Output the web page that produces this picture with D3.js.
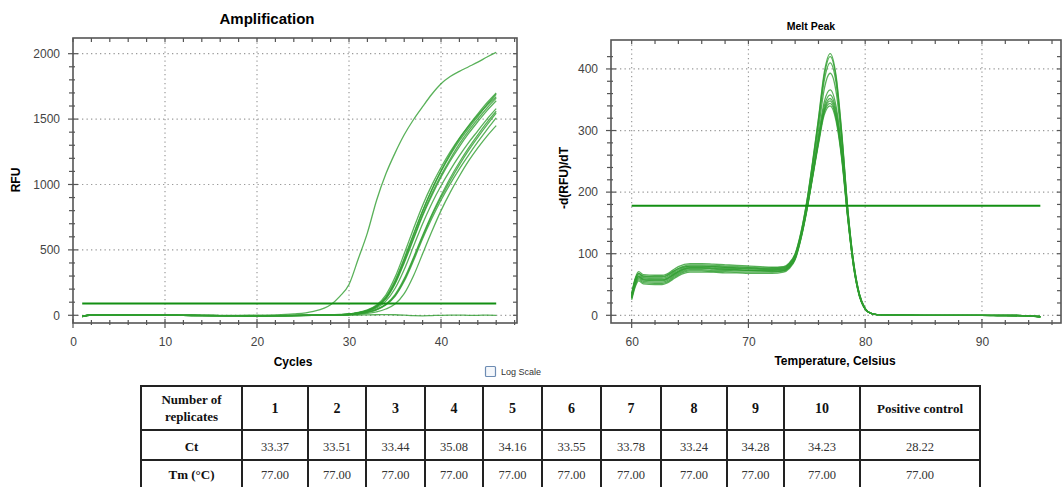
<!DOCTYPE html>
<html>
<head>
<meta charset="utf-8">
<script src="https://cdn.jsdelivr.net/npm/d3@7"></script>
<style>
body{margin:0;background:#fff;}
svg{display:block;font-family:"Liberation Sans",Arial,sans-serif;}
</style>
</head>
<body>
<div id="chart"></div>
<script>
// ---- amplification data (RFU per cycle) ----
var ampCycles = [1, 2, 4, 6, 8, 10, 12, 14, 16, 18, 20, 22, 24, 26, 28, 29, 30, 31, 32, 33, 34, 35, 36, 37, 38, 39, 40, 41, 42, 43, 44, 45, 46];
var ampReplicates = [
  [-10, 2, 3, 1, 0, 1, -1, -2, -3, -3, -4, -3, -1, 1, 3, 5, 9, 20, 38, 72, 140, 265, 435, 620, 800, 960, 1100, 1225, 1335, 1430, 1520, 1610, 1690],
  [-9, 3, 2, 2, 1, 0, -1, -2, -2, -3, -4, -4, -2, 0, 2, 4, 8, 18, 35, 66, 128, 245, 410, 590, 770, 930, 1070, 1195, 1310, 1410, 1500, 1585, 1660],
  [-11, 1, 2, 1, 1, 2, 0, -1, -2, -3, -3, -3, -2, 0, 3, 5, 9, 19, 36, 70, 135, 255, 425, 610, 795, 960, 1105, 1235, 1350, 1450, 1540, 1625, 1700],
  [-8, 2, 3, 2, 1, 0, -1, -1, -2, -3, -3, -3, -2, -1, 1, 2, 4, 8, 14, 26, 48, 86, 165, 300, 470, 640, 800, 940, 1065, 1180, 1280, 1370, 1450],
  [-10, 3, 2, 1, 0, 1, 0, -2, -3, -4, -4, -3, -2, 0, 2, 4, 6, 13, 25, 46, 85, 158, 280, 440, 610, 770, 915, 1050, 1170, 1280, 1380, 1475, 1560],
  [-9, 2, 3, 2, 0, 0, -1, -2, -3, -3, -3, -3, -1, 0, 2, 4, 8, 18, 34, 64, 125, 240, 400, 580, 760, 915, 1055, 1180, 1290, 1390, 1480, 1565, 1640],
  [-10, 2, 2, 1, 1, 1, -1, -1, -2, -3, -4, -3, -2, 0, 2, 4, 7, 15, 30, 56, 108, 205, 350, 525, 700, 855, 990, 1110, 1220, 1320, 1410, 1500, 1580],
  [-11, 3, 3, 1, 0, 1, -1, -2, -3, -3, -4, -3, -1, 1, 3, 6, 10, 22, 42, 78, 155, 290, 470, 660, 840, 995, 1130, 1250, 1355, 1445, 1530, 1605, 1670],
  [-9, 2, 2, 1, 1, 0, -1, -2, -2, -3, -3, -3, -2, -1, 1, 3, 6, 12, 23, 42, 78, 145, 260, 415, 585, 740, 880, 1005, 1120, 1225, 1325, 1420, 1510],
  [-10, 3, 2, 2, 0, 1, 0, -1, -3, -3, -4, -3, -2, 0, 2, 3, 6, 12, 24, 44, 82, 150, 270, 430, 600, 760, 900, 1030, 1150, 1260, 1360, 1455, 1545]
];
var ampPositive = [-8, 3, 2, 1, 0, 1, 0, -1, -1, 0, 1, 3, 10, 28, 80, 145, 235, 430, 630, 880, 1080, 1240, 1380, 1495, 1595, 1690, 1770, 1825, 1865, 1900, 1935, 1975, 2010];
var ampNegative = [-6, 2, 2, 1, 0, 1, 0, -1, -2, -2, -3, -2, -1, 0, 1, 1, 2, 2, 3, 4, 5, 4, 1, -3, -4, -2, 0, 1, 1, 0, 0, 1, 0];
var ampThreshold = 90;

// ---- melt peak data (-d(RFU)/dT per temperature) ----
var meltTemps = [60, 60.3, 60.6, 61, 62, 62.6, 63, 63.5, 64, 65, 66, 67, 68, 69, 70, 71, 72, 73, 73.5, 74, 74.5, 75, 75.5, 76, 76.5, 77, 77.5, 78, 78.5, 79, 79.5, 80, 80.5, 81, 83, 85, 88, 90, 92, 94, 95];
var meltCurves = [
  [35, 60, 71, 66, 65, 65, 67, 73, 79, 84, 84, 83, 82, 81, 80, 79, 78, 79, 85, 100, 135, 185, 250, 320, 395, 425, 390, 295, 175, 88, 35, 11, 3, 1, 1, 0, 0, 0, 0, -1, -2],
  [33, 58, 68, 63, 62, 62, 64, 70, 76, 82, 82, 81, 80, 79, 78, 77, 77, 78, 84, 99, 134, 184, 248, 318, 390, 420, 386, 292, 174, 87, 35, 11, 3, 1, 1, 0, 0, 0, 0, -1, -3],
  [31, 56, 66, 61, 60, 60, 62, 68, 74, 80, 80, 79, 78, 77, 77, 76, 76, 77, 83, 98, 132, 182, 245, 312, 382, 410, 378, 288, 172, 86, 34, 11, 3, 1, 0, 0, 0, 0, -1, -1, -2],
  [30, 54, 64, 59, 58, 58, 60, 66, 72, 78, 78, 77, 76, 76, 75, 75, 75, 76, 82, 96, 130, 178, 240, 302, 368, 393, 364, 280, 170, 85, 34, 10, 3, 1, 0, 0, 0, 0, 0, -1, -2],
  [29, 52, 62, 57, 56, 56, 58, 64, 70, 76, 76, 75, 74, 74, 73, 73, 73, 74, 80, 94, 128, 175, 232, 292, 347, 366, 340, 268, 165, 83, 33, 10, 3, 1, 0, 0, 0, 0, 0, -1, -2],
  [28, 50, 60, 55, 54, 54, 56, 62, 68, 74, 74, 73, 73, 72, 72, 72, 72, 73, 79, 93, 127, 173, 229, 287, 340, 358, 333, 264, 163, 82, 33, 10, 3, 1, 0, 0, 0, 0, -1, -1, -3],
  [27, 48, 58, 53, 52, 52, 54, 60, 66, 72, 72, 71, 71, 70, 70, 70, 70, 72, 78, 92, 126, 172, 227, 284, 335, 352, 328, 260, 162, 81, 32, 10, 3, 1, 0, 0, 0, 0, 0, -1, -2],
  [25, 46, 56, 51, 50, 50, 52, 58, 64, 70, 70, 70, 69, 69, 68, 68, 68, 70, 76, 90, 124, 170, 225, 281, 332, 348, 323, 257, 161, 80, 32, 10, 3, 1, 0, 0, 0, 0, 0, -1, -3],
  [34, 58, 68, 64, 63, 63, 65, 71, 76, 80, 80, 79, 78, 77, 76, 75, 74, 75, 81, 95, 128, 173, 227, 282, 330, 344, 320, 255, 160, 80, 32, 10, 3, 1, 0, 0, 0, 0, 0, -1, -2],
  [30, 53, 63, 58, 57, 57, 59, 65, 71, 77, 77, 76, 75, 74, 73, 72, 71, 72, 78, 92, 125, 170, 224, 278, 326, 340, 316, 252, 158, 79, 31, 10, 3, 1, 0, 0, 0, 0, -1, -1, -3]
];
var meltThreshold = 178;

// ---- table ----
var tableHeader = ["Number of|replicates", "1", "2", "3", "4", "5", "6", "7", "8", "9", "10", "Positive control"];
var ctValues = ["Ct", "33.37", "33.51", "33.44", "35.08", "34.16", "33.55", "33.78", "33.24", "34.28", "34.23", "28.22"];
var tmValues = ["Tm (\u00B0C)", "77.00", "77.00", "77.00", "77.00", "77.00", "77.00", "77.00", "77.00", "77.00", "77.00", "77.00"];

var width = 1064, height = 487;
var lineColor = "#2f9e2f";
var svg = d3.select("#chart").append("svg")
  .attr("width", width).attr("height", height);

//draw a plot frame with grid, ticks and labels
function frame(o) {
  var g = svg.append("g");
  var b = o.box;
  var clipId = "clip" + o.id;
  svg.append("clipPath").attr("id", clipId).append("rect")
    .attr("x", b.l).attr("y", b.t).attr("width", b.r - b.l).attr("height", b.b - b.t);

  // grid
  g.append("g").selectAll("line").data(o.xMajor.filter(function(d){return o.x(d) > b.l + 2;}))
    .enter().append("line")
    .attr("x1", function(d){return o.x(d);}).attr("x2", function(d){return o.x(d);})
    .attr("y1", b.t).attr("y2", b.b)
    .attr("stroke", "#9a9a9a").attr("stroke-width", 1.2).attr("stroke-dasharray", "1.3,3.2");
  g.append("g").selectAll("line").data(o.yMajor)
    .enter().append("line")
    .attr("y1", function(d){return o.y(d);}).attr("y2", function(d){return o.y(d);})
    .attr("x1", b.l).attr("x2", b.r)
    .attr("stroke", "#9a9a9a").attr("stroke-width", 1.2).attr("stroke-dasharray", "1.3,3.2");

  // ticks
  var tk = g.append("g").attr("stroke", "#555").attr("stroke-width", 1.2);
  function xt(vals, y1, y2) {
    tk.append("g").selectAll("line").data(vals).enter().append("line")
      .attr("x1", function(d){return o.x(d);}).attr("x2", function(d){return o.x(d);})
      .attr("y1", y1).attr("y2", y2);
  }
  function yt(vals, x1, x2) {
    tk.append("g").selectAll("line").data(vals).enter().append("line")
      .attr("y1", function(d){return o.y(d);}).attr("y2", function(d){return o.y(d);})
      .attr("x1", x1).attr("x2", x2);
  }
  xt(o.xMajor, b.b - 4, b.b + 5);
  xt(o.xMinor, b.b - 3, b.b + 2);
  xt(o.xMajor.concat(o.xMinor), b.t, b.t + 4);
  yt(o.yMajor, b.l - 5, b.l + 5);
  yt(o.yMinor, b.l - 4, b.l + 2);
  yt(o.yMajor.concat(o.yMinor), b.r - 4, b.r);

  g.append("rect")
    .attr("x", b.l).attr("y", b.t).attr("width", b.r - b.l).attr("height", b.b - b.t)
    .attr("fill", "none").attr("stroke", "#555").attr("stroke-width", 1.6);

  // labels through axes
  var fmt = d3.format("d");
  var xa = g.append("g").attr("transform", "translate(0," + (b.b + 7) + ")")
    .call(d3.axisBottom(o.x).tickValues(o.xMajor).tickFormat(fmt).tickSize(0).tickPadding(7));
  var ya = g.append("g").attr("transform", "translate(" + (b.l - 6) + ",0)")
    .call(d3.axisLeft(o.y).tickValues(o.yMajor).tickFormat(fmt).tickSize(0).tickPadding(7));
  [xa, ya].forEach(function(a){
    a.select(".domain").remove();
    a.selectAll("text").attr("fill", "#444").style("font-size", "12px")
      .style("font-family", "'Liberation Sans', Arial, sans-serif");
  });

  var plot = svg.append("g").attr("clip-path", "url(#" + clipId + ")");
  return plot;
}

// ---------- Amplification ----------
var ampBox = {l: 73, t: 38, r: 517, b: 323};
var xAmp = d3.scaleLinear().domain([0, 48.26]).range([ampBox.l, ampBox.r]);
var yAmp = d3.scaleLinear().domain([-59, 2120]).range([ampBox.b, ampBox.t]);

var ampPlot = frame({
  id: "amp", box: ampBox, x: xAmp, y: yAmp,
  xMajor: [0, 10, 20, 30, 40],
  xMinor: [2, 4, 6, 8, 12, 14, 16, 18, 22, 24, 26, 28, 32, 34, 36, 38, 42, 44, 46, 48],
  yMajor: [0, 500, 1000, 1500, 2000],
  yMinor: d3.range(100, 2100, 100).filter(function(d){return d % 500 !== 0;})
});

var ampLine = d3.line()
  .x(function(d, i){return xAmp(ampCycles[i]);})
  .y(function(d){return yAmp(d);})
  .curve(d3.curveMonotoneX);

ampPlot.selectAll(".amp").data(ampReplicates.concat([ampPositive, ampNegative]))
  .enter().append("path")
  .attr("d", ampLine)
  .attr("fill", "none")
  .attr("stroke", lineColor)
  .attr("stroke-opacity", 0.8)
  .attr("stroke-width", 1.3);

ampPlot.append("line")
  .attr("x1", xAmp(1)).attr("x2", xAmp(46))
  .attr("y1", yAmp(ampThreshold)).attr("y2", yAmp(ampThreshold))
  .attr("stroke", "#138f13").attr("stroke-width", 2);

svg.append("text").attr("x", 267).attr("y", 24).attr("text-anchor", "middle")
  .style("font-size", "15px").style("font-weight", "bold").text("Amplification");
svg.append("text").attr("x", 293).attr("y", 366).attr("text-anchor", "middle")
  .style("font-size", "12px").style("font-weight", "bold").text("Cycles");
svg.append("text").attr("transform", "translate(20,180) rotate(-90)").attr("text-anchor", "middle")
  .style("font-size", "12px").style("font-weight", "bold").text("RFU");

// ---------- Melt Peak ----------
var meltBox = {l: 611, t: 40, r: 1061, b: 323};
var xMelt = d3.scaleLinear().domain([58.23, 96.77]).range([meltBox.l, meltBox.r]);
var yMelt = d3.scaleLinear().domain([-12.5, 447]).range([meltBox.b, meltBox.t]);

var meltPlot = frame({
  id: "melt", box: meltBox, x: xMelt, y: yMelt,
  xMajor: [60, 70, 80, 90],
  xMinor: [62, 64, 66, 68, 72, 74, 76, 78, 82, 84, 86, 88, 92, 94, 96],
  yMajor: [0, 100, 200, 300, 400],
  yMinor: d3.range(20, 440, 20).filter(function(d){return d % 100 !== 0;})
});

var meltLine = d3.line()
  .x(function(d, i){return xMelt(meltTemps[i]);})
  .y(function(d){return yMelt(d);})
  .curve(d3.curveMonotoneX);

meltPlot.selectAll(".melt").data(meltCurves)
  .enter().append("path")
  .attr("d", meltLine)
  .attr("fill", "none")
  .attr("stroke", lineColor)
  .attr("stroke-opacity", 0.8)
  .attr("stroke-width", 1.3);

meltPlot.append("line")
  .attr("x1", xMelt(60)).attr("x2", xMelt(95))
  .attr("y1", yMelt(meltThreshold)).attr("y2", yMelt(meltThreshold))
  .attr("stroke", "#138f13").attr("stroke-width", 2);

svg.append("text").attr("x", 811).attr("y", 30).attr("text-anchor", "middle")
  .style("font-size", "10.5px").style("font-weight", "bold").text("Melt Peak");
svg.append("text").attr("x", 835).attr("y", 365).attr("text-anchor", "middle")
  .style("font-size", "12px").style("font-weight", "bold").text("Temperature, Celsius");
svg.append("text").attr("transform", "translate(568,178) rotate(-90)").attr("text-anchor", "middle")
  .style("font-size", "12px").style("font-weight", "bold").text("-d(RFU)/dT");

// log scale checkbox
svg.append("rect").attr("x", 485.5).attr("y", 366.5).attr("width", 10).attr("height", 10)
  .attr("rx", 1).attr("fill", "#f4f7fb").attr("stroke", "#6d8cb3").attr("stroke-width", 1.2);
svg.append("text").attr("x", 501).attr("y", 375).style("font-size", "9px").attr("fill", "#333")
  .text("Log Scale");

// ---------- Table ----------
var cols = [141, 242, 308, 366, 425, 483, 542, 601, 661, 727, 784, 860, 980];
var rows = [386, 430, 460, 490];
var tg = svg.append("g").style("font-family", "'Liberation Serif', 'Times New Roman', serif");

tg.append("g").selectAll("line").data(cols).enter().append("line")
  .attr("x1", function(d){return d;}).attr("x2", function(d){return d;})
  .attr("y1", rows[0]).attr("y2", rows[3])
  .attr("stroke", "#222").attr("stroke-width", 2);
tg.append("g").selectAll("line").data(rows).enter().append("line")
  .attr("y1", function(d){return d;}).attr("y2", function(d){return d;})
  .attr("x1", cols[0] - 1).attr("x2", cols[cols.length - 1] + 1)
  .attr("stroke", "#222").attr("stroke-width", 2);

function cellX(i){ return (cols[i] + cols[i + 1]) / 2; }

tableHeader.forEach(function(t, i){
  var parts = t.split("|");
  var txt = tg.append("text").attr("text-anchor", "middle")
    .style("font-weight", "bold").attr("fill", "#111");
  if (parts.length > 1) {
    txt.style("font-size", "13px");
    txt.append("tspan").attr("x", cellX(i)).attr("y", 404).text(parts[0]);
    txt.append("tspan").attr("x", cellX(i)).attr("y", 421).text(parts[1]);
  } else {
    txt.attr("x", cellX(i)).attr("y", 413)
      .style("font-size", i === tableHeader.length - 1 ? "13px" : "14px").text(t);
  }
});
[[ctValues, 451], [tmValues, 479]].forEach(function(r){
  r[0].forEach(function(t, i){
    tg.append("text").attr("x", cellX(i)).attr("y", r[1]).attr("text-anchor", "middle")
      .style("font-size", i === 0 ? "13px" : "12.5px")
      .style("font-weight", i === 0 ? "bold" : "normal")
      .attr("fill", i === 0 ? "#111" : "#333")
      .text(t);
  });
});
</script>
</body>
</html>
